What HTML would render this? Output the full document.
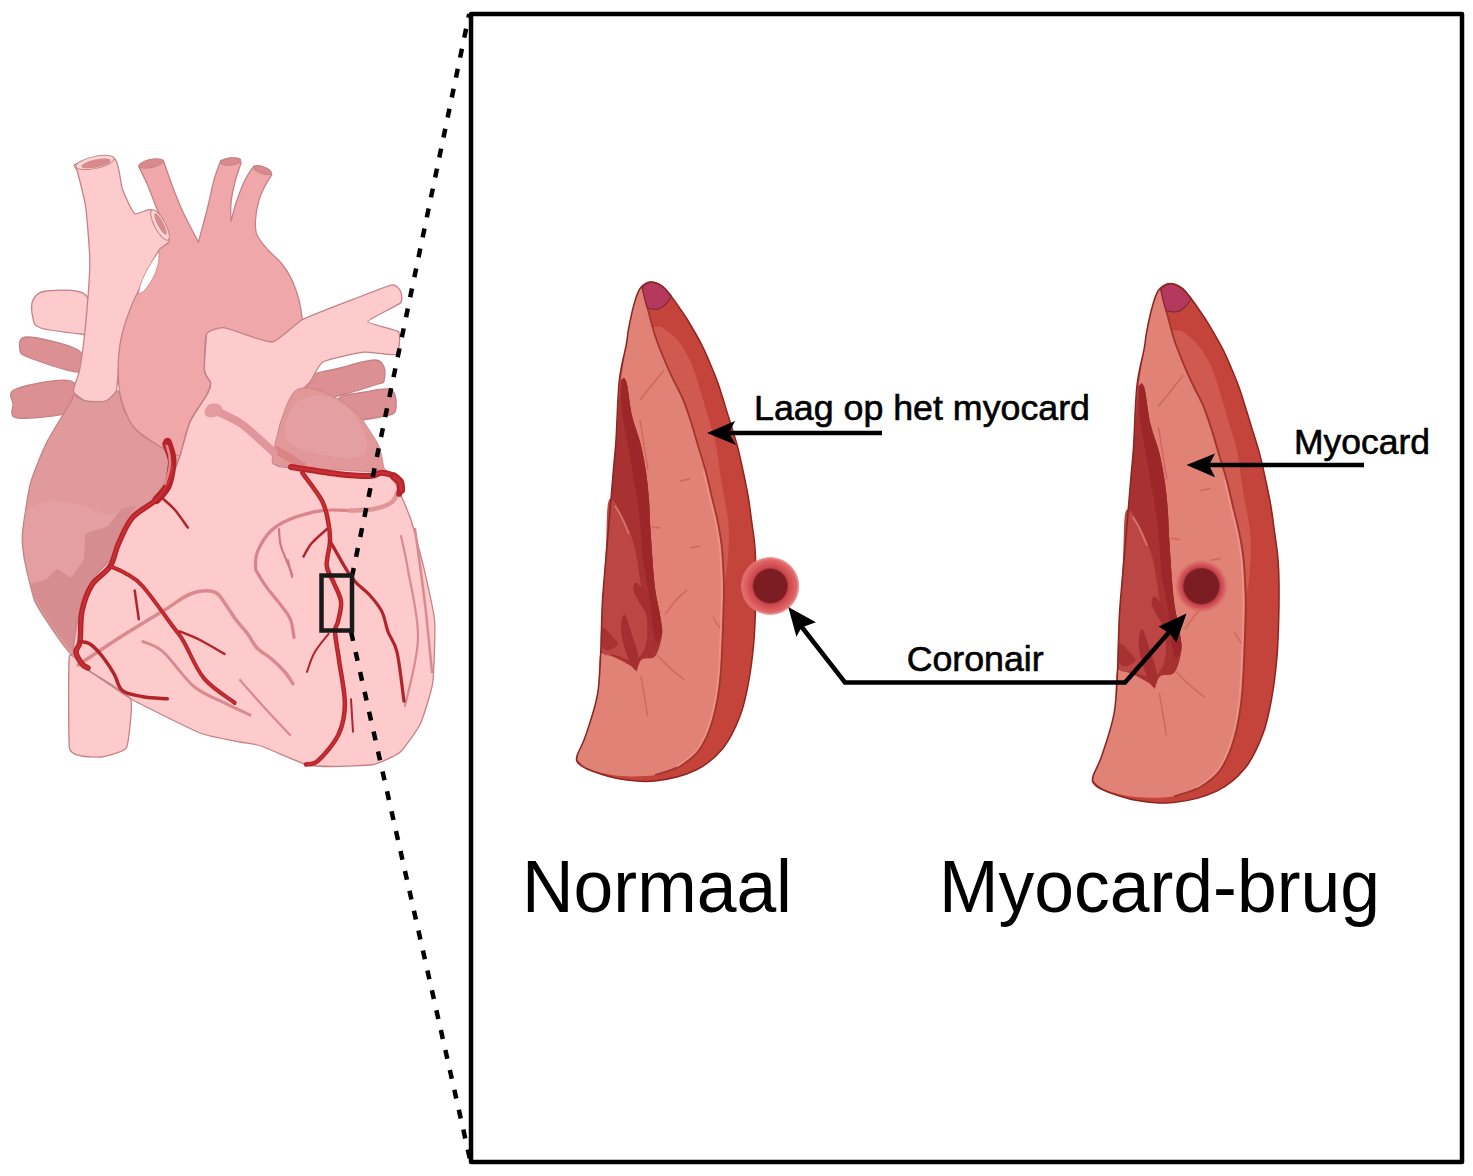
<!DOCTYPE html>
<html><head><meta charset="utf-8">
<style>
html,body{margin:0;padding:0;background:#fff;width:1473px;height:1176px;overflow:hidden}
svg{display:block}
text{font-family:"Liberation Sans",sans-serif;fill:#000}
</style></head><body>
<svg width="1473" height="1176" viewBox="0 0 1473 1176">
<g id="heart">
<path d="M306.0,378.0 C310.7,372.7 328.7,371.0 340.0,368.0 C351.3,365.0 366.7,360.2 374.0,360.0 C381.3,359.8 382.3,363.5 384.0,367.0 C385.7,370.5 385.0,378.2 384.0,381.0 C383.0,383.8 384.5,381.8 378.0,384.0 C371.5,386.2 356.0,391.3 345.0,394.0 C334.0,396.7 318.5,402.7 312.0,400.0 C305.5,397.3 301.3,383.3 306.0,378.0 Z" fill="#dd9094" stroke="#c48286" stroke-width="1.3"/>
<path d="M339.0,398.0 C343.3,393.7 357.0,393.5 365.0,392.0 C373.0,390.5 382.0,388.5 387.0,389.0 C392.0,389.5 393.7,391.2 395.0,395.0 C396.3,398.8 396.8,408.5 395.0,412.0 C393.2,415.5 389.8,414.7 384.0,416.0 C378.2,417.3 367.5,419.7 360.0,420.0 C352.5,420.3 342.5,421.7 339.0,418.0 C335.5,414.3 334.7,402.3 339.0,398.0 Z" fill="#dd9094" stroke="#c48286" stroke-width="1.3"/>
<path d="M47.0,291.0 C55.8,290.2 78.9,288.0 85.7,295.0 C92.5,302.0 88.7,326.5 88.0,333.0 C87.3,339.5 89.5,334.8 81.6,334.0 C73.7,333.2 48.9,330.7 40.8,328.0 C32.7,325.3 34.3,322.7 33.0,318.0 C31.7,313.3 30.7,304.5 33.0,300.0 C35.3,295.5 38.2,291.8 47.0,291.0 Z" fill="#fdcbcb" stroke="#c48286" stroke-width="1.3"/>
<path d="M27.0,337.0 C36.7,337.0 69.2,344.2 78.0,350.0 C86.8,355.8 88.0,370.7 80.0,372.0 C72.0,373.3 40.0,361.7 30.0,358.0 C20.0,354.3 20.5,353.5 20.0,350.0 C19.5,346.5 17.3,337.0 27.0,337.0 Z" fill="#dd9094" stroke="#c48286" stroke-width="1.3"/>
<path d="M16.0,389.0 C25.7,385.2 61.2,377.5 71.0,381.0 C80.8,384.5 83.8,403.8 75.0,410.0 C66.2,416.2 28.3,419.0 18.0,418.0 C7.7,417.0 13.3,408.8 13.0,404.0 C12.7,399.2 6.3,392.8 16.0,389.0 Z" fill="#dd9094" stroke="#c48286" stroke-width="1.3"/>
<path d="M138.8,166.5 C140.3,169.8 145.0,178.9 148.0,186.0 C151.0,193.1 153.8,201.7 157.0,209.0 C160.2,216.3 165.6,226.3 167.3,229.8 C165.9,233.2 164.8,237.8 159.0,250.0 C153.2,262.2 138.8,287.3 132.7,303.0 C126.6,318.7 124.5,336.2 122.4,344.0 C120.4,351.8 120.1,338.8 120.4,350.0 C120.8,361.2 120.8,396.7 124.5,411.0 C128.2,425.3 136.4,429.9 142.9,435.7 C149.4,441.5 157.2,442.6 163.3,446.0 C169.4,449.4 172.7,457.0 179.6,456.0 C186.5,455.0 196.6,449.3 205.0,440.0 C213.4,430.7 217.5,413.3 230.0,400.0 C242.5,386.7 267.9,373.4 280.0,360.0 C292.1,346.6 298.7,326.3 302.4,319.6 C301.8,316.3 300.7,306.6 299.0,300.0 C297.3,293.4 294.8,286.0 292.0,280.0 C289.2,274.0 286.0,269.0 282.0,264.0 C278.0,259.0 272.2,254.8 268.0,250.0 C263.8,245.2 259.1,240.0 257.0,235.0 C254.9,230.0 255.2,225.8 255.5,220.0 C255.8,214.2 257.4,205.7 259.0,200.0 C260.6,194.3 262.9,190.2 265.0,186.0 C267.1,181.8 270.7,176.6 271.8,174.7 C270.2,173.6 265.1,169.4 262.0,168.0 C258.9,166.6 254.9,166.8 253.5,166.5 C252.1,168.8 247.9,173.9 245.0,180.0 C242.1,186.1 238.3,196.1 236.0,203.0 C233.7,209.9 231.8,218.5 231.0,221.6 C231.0,218.5 230.3,209.6 231.0,203.0 C231.7,196.4 233.3,188.8 235.0,182.0 C236.7,175.2 240.2,165.7 241.2,162.4 C239.5,161.7 234.4,158.3 231.0,158.0 C227.6,157.7 222.5,160.0 220.8,160.4 C219.7,163.7 216.3,171.7 214.0,180.0 C211.7,188.3 209.6,199.7 207.0,210.0 C204.4,220.3 199.8,236.7 198.4,242.0 C197.2,239.7 193.6,233.0 191.0,228.0 C188.4,223.0 185.7,217.8 183.0,212.0 C180.3,206.2 178.3,201.6 175.0,193.0 C171.7,184.4 165.2,165.8 163.3,160.4 C161.1,160.3 154.1,159.0 150.0,160.0 C145.9,161.0 140.7,165.4 138.8,166.5 Z" fill="#efa7a9" stroke="#c48286" stroke-width="1.3"/>
<ellipse cx="151" cy="163.5" rx="12.5" ry="4" transform="rotate(-12 151 163.5)" fill="#d98a8e" stroke="#c48286" stroke-width="1"/>
<ellipse cx="231" cy="161.5" rx="10" ry="3.5" transform="rotate(-8 231 161.5)" fill="#d98a8e" stroke="#c48286" stroke-width="1"/>
<ellipse cx="262.5" cy="170" rx="9.5" ry="3.5" transform="rotate(20 262.5 170)" fill="#d98a8e" stroke="#c48286" stroke-width="1"/>
<path d="M75.5,164.0 C71.8,165.4 76.6,167.7 77.6,172.0 C78.6,176.3 84.5,198.0 85.7,207.0 C86.9,216.0 89.8,250.7 89.8,262.4 C89.8,274.1 86.7,312.9 85.7,323.7 C84.7,334.5 80.8,363.3 79.6,370.0 C78.4,376.7 72.9,387.9 73.5,391.0 C74.1,394.1 82.5,400.0 85.7,401.0 C89.0,402.0 102.9,402.0 106.0,401.0 C109.1,400.0 114.9,396.1 116.3,391.0 C117.7,385.9 119.0,356.7 120.0,350.0 C121.0,343.3 124.2,330.4 126.5,323.7 C128.8,317.0 139.7,290.4 142.9,283.0 C146.2,275.6 156.3,254.3 159.0,250.0 C161.7,245.7 170.1,244.0 169.4,240.0 C168.7,236.0 155.5,212.7 152.0,210.0 C148.5,207.3 137.7,215.6 134.7,213.5 C131.7,211.4 124.4,194.5 122.4,189.0 C120.4,183.5 119.0,160.9 114.3,158.4 C109.6,155.9 79.2,162.6 75.5,164.0 Z" fill="#fdcbcb" stroke="#c48286" stroke-width="1.3"/>
<ellipse cx="95" cy="162.5" rx="19.5" ry="6" transform="rotate(-12 95 162.5)" fill="#fcd6d6" stroke="#c48286" stroke-width="1"/>
<ellipse cx="96" cy="163.5" rx="15" ry="4" transform="rotate(-12 96 163.5)" fill="#d98a8e"/>
<ellipse cx="160" cy="225" rx="5.5" ry="17" transform="rotate(-28 160 225)" fill="#fcd6d6" stroke="#c48286" stroke-width="1"/>
<ellipse cx="160.5" cy="224" rx="3" ry="12" transform="rotate(-28 160.5 224)" fill="#d98a8e"/>
<path d="M73.5,395.0 C72.1,395.0 74.1,396.3 71.4,401.0 C68.8,405.7 51.1,433.6 47.0,441.8 C42.9,450.0 33.1,473.5 30.6,482.7 C28.1,491.9 23.0,526.0 22.4,533.7 C21.8,541.4 23.3,553.3 24.5,560.0 C25.7,566.7 32.1,594.1 34.7,600.8 C37.4,607.5 47.7,622.4 51.0,627.3 C54.3,632.2 65.0,647.1 67.3,649.8 C69.5,652.5 72.5,656.9 73.5,654.0 C74.5,651.1 75.8,628.4 77.6,621.0 C79.4,613.6 88.6,586.5 91.8,580.4 C95.0,574.3 107.3,563.6 110.0,560.0 C112.7,556.4 116.1,548.2 118.4,543.9 C120.7,539.6 128.6,522.0 132.7,517.3 C136.8,512.6 154.9,501.5 159.0,497.0 C163.1,492.5 171.4,476.5 173.5,472.4 C175.6,468.3 180.6,458.6 179.6,456.0 C178.6,453.4 167.0,448.0 163.3,446.0 C159.6,444.0 146.8,439.2 142.9,435.7 C139.0,432.2 127.0,415.5 124.5,411.0 C122.0,406.5 120.2,392.0 118.4,391.0 C116.6,390.0 109.3,400.0 106.0,401.0 C102.7,402.0 89.0,401.6 85.7,401.0 C82.5,400.4 74.9,395.0 73.5,395.0 Z" fill="#e09a9b" stroke="#c48286" stroke-width="1.3"/>
<path d="M159.0,250.0 C152.3,254.3 136.5,294.2 132.7,303.0 C128.9,311.8 122.7,331.4 121.2,338.0 C119.8,344.6 118.2,362.9 118.2,369.0 C118.2,375.1 119.7,393.7 121.2,399.5 C122.7,405.3 129.8,422.4 133.5,427.0 C137.2,431.6 153.1,442.3 158.0,445.4 C162.9,448.5 179.3,460.0 182.5,457.7 C185.7,455.4 188.2,428.3 190.0,422.5 C191.8,416.7 199.1,403.2 200.8,399.5 C202.5,395.8 206.5,388.8 207.0,385.7 C207.5,382.6 205.7,372.9 205.4,368.9 C205.1,364.9 203.4,349.8 203.9,346.0 C204.4,342.2 208.3,332.4 210.0,330.6 C211.7,328.8 217.7,330.7 220.7,327.6 C223.7,324.5 242.1,306.8 240.0,300.0 C237.9,293.2 208.1,265.0 200.0,260.0 C191.9,255.0 165.7,245.7 159.0,250.0 Z" fill="#efa7a9"/>
<path d="M159.0,250.0 C155.5,257.1 137.7,291.3 132.7,303.0 C127.7,314.7 123.1,329.2 121.2,338.0 C119.3,346.8 118.2,360.8 118.2,369.0 C118.2,377.2 119.2,391.8 121.2,399.5 C123.2,407.2 128.6,420.9 133.5,427.0 C138.4,433.1 151.5,441.3 158.0,445.4 C164.5,449.5 179.2,456.1 182.5,457.7" fill="none" stroke="#c48286" stroke-width="1.3"/>
<path d="M159.0,251.0 C158.9,252.8 159.3,257.8 158.5,262.0 C157.7,266.2 156.2,271.3 154.0,276.0 C151.8,280.7 147.6,287.0 145.0,290.0 C142.4,293.0 139.6,293.3 138.5,294.0 C138.9,292.2 139.4,287.3 141.0,283.0 C142.6,278.7 145.7,272.3 148.0,268.0 C150.3,263.7 153.2,259.8 155.0,257.0 C156.8,254.2 158.3,252.0 159.0,251.0 Z" fill="#ffffff" stroke="#c48286" stroke-width="0.8"/>
<path d="M30.6,583.0 C31.6,582.0 44.9,579.9 46.7,579.0 C48.5,578.1 55.4,569.1 57.0,569.0 C58.6,568.9 69.4,577.7 71.2,577.0 C73.0,576.3 82.5,561.6 83.5,558.8 C84.5,556.0 84.7,536.2 85.5,534.3 C86.3,532.4 94.2,530.6 95.7,530.0 C97.2,529.4 106.4,527.3 108.0,526.0 C109.6,524.7 118.1,511.2 120.0,509.8 C121.9,508.4 135.9,505.2 136.5,505.7 C137.1,506.2 129.8,515.3 128.4,518.0 C127.0,520.7 117.9,542.4 116.0,546.5 C114.1,550.6 102.0,575.7 99.8,579.2 C97.6,582.7 85.0,596.6 83.5,599.6 C82.0,602.6 78.0,621.0 77.3,624.0 C76.6,627.0 73.7,642.7 73.3,644.5 C72.9,646.3 72.7,652.0 71.2,650.6 C69.7,649.2 53.4,627.8 50.8,624.0 C48.2,620.2 33.7,596.2 32.4,593.5 C31.1,590.8 29.6,584.0 30.6,583.0 Z" fill="#d68d90"/>
<path d="M26.0,511.0 C27.7,507.7 46.4,500.4 50.0,500.0 C53.6,499.6 76.0,504.0 80.0,505.0 C84.0,506.0 107.3,514.7 110.0,515.0 C112.7,515.3 120.1,509.1 120.0,509.8 C119.9,510.5 109.6,524.7 108.0,526.0 C106.4,527.3 97.2,529.4 95.7,530.0 C94.2,530.6 86.3,532.4 85.5,534.3 C84.7,536.2 84.5,556.0 83.5,558.8 C82.5,561.6 73.0,576.3 71.2,577.0 C69.4,577.7 58.6,568.9 57.0,569.0 C55.4,569.1 48.5,578.1 46.7,579.0 C44.9,579.9 32.1,584.9 30.6,583.0 C29.1,581.1 24.3,554.8 24.0,550.0 C23.7,545.2 24.3,514.3 26.0,511.0 Z" fill="#e3a0a2" opacity="0.8"/>
<path d="M180.0,456.0 C181.4,451.8 187.8,426.9 190.0,421.8 C192.2,416.7 204.8,398.5 206.5,395.3 C208.2,392.1 210.8,385.0 210.6,383.0 C210.4,381.0 204.8,374.9 204.5,370.8 C204.2,366.7 204.8,337.6 206.5,334.0 C208.2,330.4 219.5,327.1 224.9,327.8 C230.3,328.5 265.3,342.7 271.8,342.0 C278.3,341.3 295.6,323.2 302.4,319.6 C309.2,316.0 346.0,302.1 353.5,299.2 C361.0,296.3 388.3,285.6 392.2,284.9 C396.1,284.2 399.7,289.5 400.4,291.0 C401.1,292.5 403.1,300.4 400.4,303.0 C397.7,305.6 368.0,319.2 367.8,321.6 C367.6,324.0 396.0,329.1 398.4,331.8 C400.8,334.5 399.2,352.6 396.3,354.3 C393.4,356.0 369.8,351.6 363.7,352.2 C357.6,352.8 327.4,359.5 322.9,362.0 C318.4,364.5 312.6,378.8 310.0,382.0 C307.4,385.2 294.5,396.4 292.0,400.0 C289.5,403.6 281.3,419.6 280.0,425.0 C278.7,430.4 274.2,461.1 276.0,464.7 C277.8,468.3 292.9,467.5 302.0,468.0 C311.1,468.5 376.8,468.6 385.0,470.8 C393.2,473.0 398.2,490.1 400.4,494.3 C402.6,498.6 409.6,515.4 411.6,521.8 C413.6,528.2 422.6,562.3 424.5,570.6 C426.4,578.9 434.0,612.2 434.7,621.6 C435.4,631.0 433.9,674.4 432.7,682.9 C431.5,691.4 423.1,717.9 420.4,723.7 C417.7,729.5 403.9,748.8 400.0,752.2 C396.1,755.6 379.1,763.3 373.5,764.5 C367.9,765.7 338.3,766.5 332.7,766.5 C327.1,766.5 312.0,766.2 306.0,764.5 C300.0,762.8 266.7,747.9 261.2,746.0 C255.7,744.1 245.1,743.1 240.0,742.0 C234.9,740.9 209.1,736.6 200.0,733.0 C190.9,729.4 139.9,704.0 130.6,698.8 C121.2,693.5 92.6,673.7 87.8,670.0 C83.0,666.3 74.3,658.1 73.5,654.0 C72.7,649.9 76.1,627.1 77.6,621.0 C79.1,614.9 89.1,585.5 91.8,580.4 C94.5,575.3 107.8,563.0 110.0,560.0 C112.2,557.0 116.5,547.5 118.4,543.9 C120.3,540.3 129.3,521.2 132.7,517.3 C136.1,513.4 155.6,500.7 159.0,497.0 C162.4,493.3 171.8,475.8 173.5,472.4 C175.2,469.0 178.6,460.2 180.0,456.0 Z" fill="#fdcbcb" stroke="#c48286" stroke-width="1.3"/>
<path d="M206.5,334.0 C206.2,340.1 203.8,362.6 204.5,370.8 C205.2,379.0 210.3,378.9 210.6,383.0 C210.9,387.1 209.9,388.8 206.5,395.3 C203.1,401.8 194.4,411.7 190.0,421.8 C185.6,431.9 181.7,450.3 180.0,456.0" fill="none" stroke="#c48286" stroke-width="1.3"/>
<path d="M272.2,461.7 C271.8,458.8 273.1,453.4 274.4,447.3 C275.7,441.2 277.8,432.4 280.0,425.0 C282.2,417.6 284.9,408.8 287.6,403.0 C290.4,397.2 292.3,392.4 296.5,390.0 C300.7,387.6 305.8,387.2 313.0,388.8 C320.2,390.4 331.9,395.2 339.6,399.8 C347.3,404.4 354.2,411.0 359.4,416.4 C364.5,421.8 367.2,426.8 370.5,431.9 C373.8,437.0 377.1,441.4 379.3,447.3 C381.5,453.2 382.9,463.1 383.8,467.2 C384.7,471.3 391.8,471.5 384.5,472.0 C377.2,472.5 354.1,470.7 340.0,470.0 C325.9,469.3 310.6,468.8 300.0,468.0 C289.4,467.2 281.2,466.1 276.6,465.0 C272.0,463.9 272.6,464.6 272.2,461.7 Z" fill="#e29799" stroke="#c48286" stroke-width="0.8"/>
<path d="M287.0,418.0 C289.3,411.7 293.7,403.7 300.0,400.0 C306.3,396.3 316.7,394.3 325.0,396.0 C333.3,397.7 343.5,404.0 350.0,410.0 C356.5,416.0 361.3,425.0 364.0,432.0 C366.7,439.0 368.3,447.7 366.0,452.0 C363.7,456.3 357.3,457.5 350.0,458.0 C342.7,458.5 330.7,456.7 322.0,455.0 C313.3,453.3 304.0,450.8 298.0,448.0 C292.0,445.2 287.8,443.0 286.0,438.0 C284.2,433.0 284.7,424.3 287.0,418.0 Z" fill="#e6a3a5" opacity="0.7"/>
<path d="M274.4,449.0 C277.0,450.5 285.0,455.0 290.0,458.0 C295.0,461.0 301.8,465.5 304.2,467.0" fill="none" stroke="#d97c80" stroke-width="8" opacity="0.75"/>
<path d="M69.4,656.0 C68.2,661.2 68.6,741.1 69.4,747.8 C70.2,754.5 79.4,755.4 81.6,756.0 C83.8,756.6 99.0,757.5 102.0,757.0 C105.0,756.5 124.6,751.7 126.5,747.8 C128.4,743.9 133.2,704.0 130.6,698.8 C128.0,693.6 91.9,672.9 87.8,670.0 C83.7,667.1 70.6,650.8 69.4,656.0 Z" fill="#fdcbcb" stroke="#c48286" stroke-width="1.3"/>
<path d="M87.8,670.0 C94.9,674.8 123.5,694.0 130.6,698.8" fill="none" stroke="#c48286" stroke-width="1.3"/>
<path d="M214.0,410.0 C218.3,412.2 232.7,418.3 240.0,423.0 C247.3,427.7 252.3,433.1 258.0,438.0 C263.6,442.9 271.2,450.0 273.9,452.4" fill="none" stroke="#e0959a" stroke-width="8" stroke-linecap="round"/>
<path d="M350.0,510.6 C345.3,510.6 331.6,509.2 321.8,510.6 C312.0,512.0 299.7,515.4 291.2,518.8 C282.7,522.2 276.4,525.6 270.8,531.0 C265.2,536.4 260.2,545.4 257.6,551.4 C255.1,557.4 255.6,563.3 255.5,566.7 C255.4,570.1 255.1,568.5 257.0,572.0 C258.9,575.5 262.7,581.9 266.7,587.4 C270.7,592.9 277.0,599.9 281.0,605.2 C285.0,610.6 288.3,614.1 290.5,619.5 C292.7,624.9 293.4,634.4 294.0,637.4" fill="none" stroke="#d8848a" stroke-width="3.2" stroke-linecap="round"/>
<path d="M350.0,510.6 C354.0,510.3 367.0,510.4 374.0,509.0 C381.0,507.6 388.0,505.0 392.0,502.0 C396.0,499.0 397.0,492.8 398.0,491.0" fill="none" stroke="#e0959a" stroke-width="4.5" stroke-linecap="round"/>
<path d="M279.0,529.0 C279.3,531.9 279.0,539.2 281.0,546.3 C283.0,553.4 289.4,566.7 291.2,571.8 C293.0,576.9 291.9,576.1 292.0,577.0" fill="none" stroke="#d07a80" stroke-width="2.2" stroke-linecap="round"/>
<path d="M288.0,560.0 C288.6,562.6 291.1,572.9 291.7,575.5" fill="none" stroke="#d07a80" stroke-width="1.8" stroke-linecap="round"/>
<path d="M78.2,665.0 C85.0,660.5 104.9,647.0 119.0,638.0 C133.1,629.0 151.1,618.3 163.0,611.0 C174.9,603.7 181.9,597.2 190.5,594.0 C199.1,590.8 208.4,590.2 214.3,592.0 C220.2,593.8 222.4,600.4 226.0,605.0 C229.6,609.6 232.1,614.7 235.7,619.5 C239.3,624.3 244.0,629.0 247.6,633.8 C251.2,638.5 253.0,643.8 257.0,648.0 C261.0,652.2 266.6,654.6 271.4,658.8 C276.2,663.0 282.1,668.8 285.7,673.0 C289.3,677.2 291.7,682.0 292.9,683.8" fill="none" stroke="#d98a8f" stroke-width="3.5" stroke-linecap="round"/>
<path d="M142.9,641.6 C146.3,643.3 154.8,644.5 163.3,652.0 C171.8,659.5 183.7,678.0 193.9,686.5 C204.1,695.0 215.2,698.1 224.5,702.9 C233.8,707.6 245.8,713.0 250.0,715.0" fill="none" stroke="#d98a8f" stroke-width="3" stroke-linecap="round"/>
<path d="M415.0,529.0 C416.7,541.5 422.2,580.2 425.0,604.0 C427.8,627.8 430.8,660.7 432.0,672.0" fill="none" stroke="#d98a8f" stroke-width="2.5" stroke-linecap="round"/>
<path d="M401.0,536.0 C402.2,541.7 405.2,553.0 408.0,570.0 C410.8,587.0 418.5,615.3 418.0,638.0 C417.5,660.7 407.2,694.7 405.0,706.0" fill="none" stroke="#d98a8f" stroke-width="2.2" stroke-linecap="round"/>
<path d="M240.0,680.0 C243.7,684.2 253.7,695.8 262.0,705.0 C270.3,714.2 285.3,730.0 290.0,735.0" fill="none" stroke="#d98a8f" stroke-width="2.2" stroke-linecap="round"/>
<path d="M205.0,410.0 C205.7,408.0 207.5,404.8 210.0,404.0 C212.5,403.2 218.0,403.5 220.0,405.0 C222.0,406.5 223.0,411.0 222.0,413.0 C221.0,415.0 216.7,416.5 214.0,417.0 C211.3,417.5 207.5,417.2 206.0,416.0 C204.5,414.8 204.3,412.0 205.0,410.0 Z" fill="#e29ca0"/>
<path d="M167.5,442.0 C168.2,444.2 170.8,451.0 171.5,455.0 C172.2,459.0 172.7,460.8 172.0,466.0 C171.3,471.2 170.1,480.3 167.5,486.0 C164.9,491.7 158.2,497.7 156.4,500.0" fill="none" stroke="#b3242a" stroke-width="8.5" stroke-linecap="round"/>
<path d="M165.0,444.0 C166.2,448.3 173.0,461.2 172.0,470.0 C171.0,478.8 165.6,489.1 159.0,497.0 C152.4,504.9 139.5,509.5 132.7,517.3 C125.9,525.1 122.2,535.7 118.4,543.9 C114.7,552.1 114.6,559.4 110.2,566.3 C105.8,573.1 96.5,577.5 91.8,585.0 C87.1,592.5 84.0,601.6 82.0,611.0 C80.0,620.4 81.0,634.8 80.0,641.6 C79.0,648.4 75.7,648.3 76.0,652.0 C76.3,655.7 80.0,661.3 82.0,664.0 C84.0,666.7 87.0,667.3 88.0,668.0" fill="none" stroke="#b3242a" stroke-width="5.5" stroke-linecap="round" stroke-linejoin="round"/>
<path d="M165.0,444.0 C166.2,448.3 173.0,461.2 172.0,470.0 C171.0,478.8 165.6,489.1 159.0,497.0 C152.4,504.9 139.5,509.5 132.7,517.3 C125.9,525.1 122.2,535.7 118.4,543.9 C114.7,552.1 114.6,559.4 110.2,566.3 C105.8,573.1 96.5,577.5 91.8,585.0 C87.1,592.5 84.0,601.6 82.0,611.0 C80.0,620.4 81.0,634.8 80.0,641.6 C79.0,648.4 75.7,648.3 76.0,652.0 C76.3,655.7 80.0,661.3 82.0,664.0 C84.0,666.7 87.0,667.3 88.0,668.0" fill="none" stroke="#cf3236" stroke-width="2.2" stroke-linecap="round" stroke-linejoin="round" opacity="0.8"/>
<path d="M80.0,641.6 C81.7,642.0 86.3,641.6 90.0,644.0 C93.7,646.4 98.0,651.0 102.0,656.0 C106.0,661.0 110.9,668.5 114.3,674.3 C117.7,680.1 117.6,686.9 122.4,690.6 C127.2,694.3 135.4,695.3 142.9,696.7 C150.4,698.1 163.2,698.4 167.3,698.8" fill="none" stroke="#b3242a" stroke-width="3.5" stroke-linecap="round" stroke-linejoin="round"/>
<path d="M110.2,566.3 C112.7,567.4 119.5,569.6 125.0,573.0 C130.4,576.4 134.8,577.5 142.9,586.5 C151.0,595.5 166.7,618.1 173.5,627.3 C180.3,636.5 178.6,633.1 183.7,641.6 C188.8,650.1 195.5,668.2 204.0,678.4 C212.5,688.6 229.6,698.8 234.7,702.9" fill="none" stroke="#b3242a" stroke-width="4" stroke-linecap="round" stroke-linejoin="round"/>
<path d="M110.2,566.3 C112.7,567.4 119.5,569.6 125.0,573.0 C130.4,576.4 134.8,577.5 142.9,586.5 C151.0,595.5 166.7,618.1 173.5,627.3 C180.3,636.5 178.6,633.1 183.7,641.6 C188.8,650.1 195.5,668.2 204.0,678.4 C212.5,688.6 229.6,698.8 234.7,702.9" fill="none" stroke="#cf3236" stroke-width="1.6" stroke-linecap="round" stroke-linejoin="round" opacity="0.8"/>
<path d="M179.6,631.4 C183.0,632.8 192.5,636.2 200.0,640.0 C207.5,643.8 220.4,651.6 224.5,653.9" fill="none" stroke="#b3242a" stroke-width="2.5" stroke-linecap="round" stroke-linejoin="round"/>
<path d="M134.7,590.6 C135.4,595.4 138.1,614.4 138.8,619.2" fill="none" stroke="#b3242a" stroke-width="2.5" stroke-linecap="round" stroke-linejoin="round"/>
<path d="M163.3,499.0 C165.2,500.8 170.9,505.2 175.0,510.0 C179.1,514.8 185.7,524.7 187.8,527.6" fill="none" stroke="#b3242a" stroke-width="2.5" stroke-linecap="round" stroke-linejoin="round"/>
<path d="M291.0,467.0 C298.7,468.1 324.1,472.4 337.3,473.9 C350.6,475.4 363.1,476.2 370.5,476.0 C377.9,475.8 377.2,472.6 381.5,472.8 C385.8,473.0 392.7,475.0 396.0,477.2 C399.3,479.4 400.9,483.2 401.4,486.0 C401.9,488.8 399.6,492.5 399.2,493.8" fill="none" stroke="#b3242a" stroke-width="6" stroke-linecap="round" stroke-linejoin="round"/>
<path d="M291.0,467.0 C298.7,468.1 324.1,472.4 337.3,473.9 C350.6,475.4 363.1,476.2 370.5,476.0 C377.9,475.8 377.2,472.6 381.5,472.8 C385.8,473.0 392.7,475.0 396.0,477.2 C399.3,479.4 400.9,483.2 401.4,486.0 C401.9,488.8 399.6,492.5 399.2,493.8" fill="none" stroke="#cf3236" stroke-width="2.4" stroke-linecap="round" stroke-linejoin="round" opacity="0.8"/>
<path d="M394.0,476.5 C395.0,477.4 398.8,479.8 400.0,482.0 C401.2,484.2 400.8,488.7 401.0,490.0" fill="none" stroke="#b3242a" stroke-width="8" stroke-linecap="round" stroke-linejoin="round"/>
<path d="M394.0,476.5 C395.0,477.4 398.8,479.8 400.0,482.0 C401.2,484.2 400.8,488.7 401.0,490.0" fill="none" stroke="#cf3236" stroke-width="3.2" stroke-linecap="round" stroke-linejoin="round" opacity="0.8"/>
<path d="M302.4,472.9 C305.6,477.5 317.5,492.4 321.8,500.4 C326.1,508.4 326.6,514.0 328.0,520.8 C329.4,527.6 330.2,533.8 330.0,541.2 C329.8,548.7 326.2,558.9 326.7,565.5 C327.2,572.1 330.5,574.8 332.9,580.8 C335.3,586.8 340.1,594.4 341.0,601.2 C341.9,608.0 339.0,616.5 338.0,621.6 C337.0,626.7 334.8,625.4 335.0,631.8 C335.2,638.2 337.4,648.1 339.0,660.0 C340.6,671.9 344.9,691.0 344.9,703.3 C344.9,715.6 343.2,724.4 338.8,733.9 C334.4,743.4 323.9,755.3 318.4,760.4 C312.9,765.5 308.1,763.8 306.0,764.5" fill="none" stroke="#b3242a" stroke-width="4.5" stroke-linecap="round" stroke-linejoin="round"/>
<path d="M302.4,472.9 C305.6,477.5 317.5,492.4 321.8,500.4 C326.1,508.4 326.6,514.0 328.0,520.8 C329.4,527.6 330.2,533.8 330.0,541.2 C329.8,548.7 326.2,558.9 326.7,565.5 C327.2,572.1 330.5,574.8 332.9,580.8 C335.3,586.8 340.1,594.4 341.0,601.2 C341.9,608.0 339.0,616.5 338.0,621.6 C337.0,626.7 334.8,625.4 335.0,631.8 C335.2,638.2 337.4,648.1 339.0,660.0 C340.6,671.9 344.9,691.0 344.9,703.3 C344.9,715.6 343.2,724.4 338.8,733.9 C334.4,743.4 323.9,755.3 318.4,760.4 C312.9,765.5 308.1,763.8 306.0,764.5" fill="none" stroke="#cf3236" stroke-width="1.8" stroke-linecap="round" stroke-linejoin="round" opacity="0.8"/>
<path d="M330.0,541.0 C332.8,545.9 342.6,563.6 347.0,570.6 C351.4,577.6 352.5,578.8 356.3,582.9 C360.1,587.0 365.4,590.2 369.6,595.0 C373.9,599.8 378.7,605.3 381.8,611.4 C384.9,617.5 385.5,625.0 388.0,631.8 C390.5,638.6 394.3,640.6 397.0,652.2 C399.7,663.8 402.8,693.0 404.0,701.2" fill="none" stroke="#b3242a" stroke-width="3.2" stroke-linecap="round" stroke-linejoin="round"/>
<path d="M327.0,529.0 C324.4,531.4 315.5,538.7 311.6,543.3 C307.7,547.9 304.9,554.3 303.5,556.5" fill="none" stroke="#b3242a" stroke-width="2.5" stroke-linecap="round" stroke-linejoin="round"/>
<path d="M328.6,633.8 C326.2,637.0 317.9,646.5 314.3,652.9 C310.7,659.2 308.2,668.7 307.0,671.9" fill="none" stroke="#b3242a" stroke-width="2" stroke-linecap="round" stroke-linejoin="round"/>
<path d="M351.0,699.2 C351.3,704.6 352.7,726.4 353.0,731.8" fill="none" stroke="#b3242a" stroke-width="2" stroke-linecap="round" stroke-linejoin="round"/>
<path d="M167.0,446.0 C167.4,447.7 169.1,452.3 169.5,456.0 C169.9,459.7 170.2,463.3 169.5,468.0 C168.8,472.7 165.8,481.3 165.0,484.0" fill="none" stroke="#e39a9a" stroke-width="2.5" stroke-linecap="round" opacity="0.85"/>
</g>
<g id="sliceL">
<path d="M650.0,282.1 C653.7,281.7 658.4,283.6 662.0,286.0 C665.6,288.4 668.1,292.3 671.4,296.4 C674.6,300.5 678.8,306.8 681.5,310.7 C684.2,314.6 684.3,314.5 687.6,320.0 C690.9,325.5 697.5,336.7 701.2,343.8 C704.9,350.9 706.9,355.8 709.7,362.5 C712.5,369.2 714.9,374.2 718.2,383.8 C721.5,393.4 726.3,409.7 729.5,420.0 C732.7,430.3 734.9,437.0 737.2,445.5 C739.5,454.0 741.3,462.5 743.1,471.0 C744.9,479.5 746.8,488.3 748.2,496.5 C749.6,504.7 750.4,511.8 751.5,520.0 C752.6,528.2 754.1,537.2 754.8,545.5 C755.5,553.8 755.8,559.6 755.9,570.0 C756.0,580.4 755.9,595.9 755.5,608.0 C755.1,620.1 754.9,630.2 753.8,642.5 C752.7,654.8 751.0,669.4 748.7,681.6 C746.4,693.8 744.5,704.5 740.2,715.6 C736.0,726.7 730.6,738.9 723.2,748.0 C715.8,757.1 707.4,764.5 696.0,770.0 C684.6,775.5 667.7,779.5 655.0,781.0 C642.3,782.5 630.5,780.7 620.0,779.0 C609.5,777.3 598.8,773.5 592.0,771.0 C585.2,768.5 581.5,766.5 579.0,764.0 C576.5,761.5 575.9,760.7 577.0,756.0 C578.1,751.3 582.1,746.2 585.5,736.0 C588.9,725.8 594.9,709.2 597.4,695.0 C599.9,680.8 599.9,666.8 600.8,651.0 C601.6,635.2 601.4,618.2 602.5,600.0 C603.6,581.8 605.6,563.7 607.4,542.0 C609.2,520.3 612.0,487.0 613.4,470.0 C614.8,453.0 615.0,454.9 616.0,440.0 C617.0,425.1 617.6,396.3 619.3,380.5 C621.0,364.7 624.7,353.6 626.2,345.0 C627.8,336.4 627.3,335.3 628.6,328.6 C629.9,321.9 632.0,311.5 633.9,304.8 C635.8,298.1 637.2,292.5 639.9,288.7 C642.6,284.9 646.3,282.6 650.0,282.1 Z" fill="#c4443b"/>
<path d="M642.3,287.5 C643.6,290.8 645.8,301.4 647.6,308.3 C649.4,315.2 651.4,323.1 653.0,328.6 C654.6,334.1 654.9,335.7 657.0,341.3 C659.1,346.9 662.7,355.9 665.5,362.5 C668.3,369.1 671.2,375.2 674.0,381.2 C676.8,387.1 679.8,391.7 682.5,398.2 C685.2,404.7 687.8,412.1 690.4,420.0 C693.0,427.9 695.5,437.0 698.0,445.5 C700.5,454.0 703.4,462.5 705.7,471.0 C708.0,479.5 709.8,488.3 711.7,496.5 C713.7,504.7 715.7,511.8 717.4,520.0 C719.1,528.2 720.7,537.0 721.7,545.5 C722.7,554.0 723.0,561.9 723.4,571.0 C723.8,580.1 724.3,582.5 723.8,600.0 C723.3,617.5 722.3,656.2 720.5,676.0 C718.7,695.8 716.5,706.7 713.0,719.0 C709.5,731.3 705.1,741.7 699.4,749.6 C693.7,757.5 686.4,762.4 679.0,766.6 C671.6,770.8 664.8,773.4 655.0,775.0 C645.2,776.6 630.5,776.8 620.0,776.0 C609.5,775.2 598.8,772.3 592.0,770.0 C585.2,767.7 581.8,764.5 579.5,762.0 C577.2,759.5 577.0,759.3 578.0,755.0 C579.0,750.7 582.3,746.0 585.5,736.0 C588.7,726.0 594.9,709.0 597.4,695.0 C599.9,681.0 597.7,658.2 600.8,652.0 C603.9,645.8 610.9,655.4 616.0,657.8 C621.1,660.2 628.0,664.0 631.4,666.3 C634.8,668.6 635.6,670.5 636.5,671.4 C637.4,669.4 638.5,662.1 641.6,659.5 C644.7,656.9 651.8,660.2 655.2,656.0 C658.6,651.8 661.2,640.8 662.0,634.0 C662.8,627.2 661.2,623.2 660.0,615.0 C658.8,606.8 656.2,599.1 654.6,584.7 C653.0,570.3 651.3,542.6 650.4,528.5 C649.5,514.4 649.7,509.4 649.0,500.0 C648.3,490.6 647.4,481.3 646.0,472.0 C644.6,462.7 642.9,453.3 640.6,444.0 C638.3,434.7 634.4,426.2 632.0,416.0 C629.6,405.8 628.3,388.6 626.5,382.5 C624.7,376.4 621.9,380.2 621.0,379.7 C621.9,373.9 624.9,353.5 626.2,345.0 C627.5,336.5 627.3,335.3 628.6,328.6 C629.9,321.9 632.0,311.5 633.9,304.8 C635.8,298.1 638.5,291.6 639.9,288.7 C641.3,285.8 641.0,284.2 642.3,287.5 Z" fill="#e08276"/>
<path d="M653.0,328.6 C653.0,326.2 655.2,327.0 657.0,327.0 C658.8,327.0 660.2,326.1 663.8,328.5 C667.3,330.9 673.8,335.6 678.3,341.3 C682.8,347.0 687.5,354.7 691.0,362.5 C694.5,370.3 696.5,378.4 699.5,388.0 C702.5,397.6 706.2,410.5 709.0,420.0 C711.8,429.5 714.0,435.1 716.0,445.0 C718.0,454.9 719.0,467.0 721.0,479.5 C723.0,492.0 726.8,508.2 728.0,520.0 C729.2,531.8 729.1,539.2 728.5,550.0 C727.9,560.8 725.4,581.5 724.5,585.0 C723.6,588.5 723.9,577.6 723.4,571.0 C722.9,564.4 722.7,554.0 721.7,545.5 C720.7,537.0 719.1,528.2 717.4,520.0 C715.7,511.8 713.7,504.7 711.7,496.5 C709.8,488.3 708.0,479.5 705.7,471.0 C703.4,462.5 700.5,454.0 698.0,445.5 C695.5,437.0 693.0,427.9 690.4,420.0 C687.8,412.1 685.2,404.7 682.5,398.2 C679.8,391.7 676.8,387.1 674.0,381.2 C671.2,375.2 668.3,369.1 665.5,362.5 C662.7,355.9 659.1,346.9 657.0,341.3 C654.9,335.7 653.0,331.0 653.0,328.6 Z" fill="#d05a50"/>
<path d="M642.3,287.5 C643.2,291.0 645.8,301.4 647.6,308.3 C649.4,315.2 651.4,323.1 653.0,328.6 C654.6,334.1 654.9,335.7 657.0,341.3 C659.1,346.9 662.7,355.9 665.5,362.5 C668.3,369.1 671.2,375.2 674.0,381.2 C676.8,387.1 679.8,391.7 682.5,398.2 C685.2,404.7 687.8,412.1 690.4,420.0 C693.0,427.9 695.5,437.0 698.0,445.5 C700.5,454.0 703.4,462.5 705.7,471.0 C708.0,479.5 709.8,488.3 711.7,496.5 C713.7,504.7 715.7,511.8 717.4,520.0 C719.1,528.2 720.7,537.0 721.7,545.5 C722.7,554.0 723.0,561.9 723.4,571.0 C723.8,580.1 724.3,582.5 723.8,600.0 C723.3,617.5 722.3,656.2 720.5,676.0 C718.7,695.8 716.5,706.7 713.0,719.0 C709.5,731.3 705.1,741.7 699.4,749.6 C693.7,757.5 686.4,762.4 679.0,766.6 C671.6,770.8 659.0,773.6 655.0,775.0" fill="none" stroke="#a3352f" stroke-width="1.8"/>
<path d="M703.5,471.0 C704.5,475.2 707.5,488.3 709.5,496.5 C711.5,504.7 713.5,511.8 715.2,520.0 C716.9,528.2 718.5,537.0 719.5,545.5 C720.5,554.0 720.8,561.9 721.2,571.0 C721.5,580.1 722.1,582.5 721.6,600.0 C721.1,617.5 720.1,656.2 718.3,676.0 C716.5,695.8 714.3,706.7 710.8,719.0 C707.3,731.3 702.9,741.7 697.2,749.6 C691.5,757.5 680.2,763.8 676.8,766.6" fill="none" stroke="#f0998c" stroke-width="1.6" opacity="0.8"/>
<path d="M621.0,379.7 C621.9,380.2 624.7,376.4 626.5,382.5 C628.3,388.6 629.6,405.8 632.0,416.0 C634.4,426.2 638.3,434.7 640.6,444.0 C642.9,453.3 644.6,462.7 646.0,472.0 C647.4,481.3 648.3,490.6 649.0,500.0 C649.7,509.4 649.5,514.4 650.4,528.5 C651.3,542.6 653.0,570.3 654.6,584.7 C656.2,599.1 658.8,606.8 660.0,615.0 C661.2,623.2 662.8,627.2 662.0,634.0 C661.2,640.8 658.6,651.8 655.2,656.0 C651.8,660.2 644.7,656.9 641.6,659.5 C638.5,662.1 637.4,669.4 636.5,671.4 C635.6,670.5 634.8,668.6 631.4,666.3 C628.0,664.0 621.1,660.1 616.0,657.8 C610.9,655.5 603.3,653.6 600.8,652.7 C601.1,643.9 601.4,618.5 602.5,600.0 C603.6,581.5 605.6,563.7 607.4,542.0 C609.2,520.3 612.0,487.0 613.4,470.0 C614.8,453.0 614.7,455.1 616.0,440.0 C617.3,424.9 620.2,389.8 621.0,379.7 Z" fill="#a83131"/>
<path d="M609.0,500.0 C611.7,495.0 617.8,507.5 622.0,515.0 C626.2,522.5 630.8,533.3 634.0,545.0 C637.2,556.7 638.8,572.5 641.0,585.0 C643.2,597.5 646.3,609.5 647.0,620.0 C647.7,630.5 647.3,641.3 645.0,648.0 C642.7,654.7 637.8,658.8 633.0,660.0 C628.2,661.2 621.2,656.7 616.0,655.0 C610.8,653.3 603.7,659.2 601.5,650.0 C599.3,640.8 602.2,617.5 603.0,600.0 C603.8,582.5 605.0,561.7 606.0,545.0 C607.0,528.3 606.3,505.0 609.0,500.0 Z" fill="#bc4644"/>
<path d="M636.7,583.0 C639.4,584.3 646.0,593.0 650.0,600.0 C654.0,607.0 660.0,619.0 661.0,625.0 C662.0,631.0 658.7,638.2 656.0,636.0 C653.3,633.8 648.7,619.3 645.0,612.0 C641.3,604.7 635.4,596.8 634.0,592.0 C632.6,587.2 634.0,581.7 636.7,583.0 Z" fill="#a52e30"/>
<path d="M624.5,614.4 C626.3,615.2 629.8,628.2 632.0,635.0 C634.2,641.8 637.4,649.2 638.0,655.0 C638.6,660.8 637.2,670.0 635.4,670.0 C633.6,670.0 629.4,661.7 627.0,655.0 C624.6,648.3 621.4,636.8 621.0,630.0 C620.6,623.2 622.7,613.6 624.5,614.4 Z" fill="#a52e30"/>
<path d="M602.7,628.0 C604.4,626.5 609.5,633.3 612.0,636.0 C614.5,638.7 618.4,642.1 617.7,644.4 C617.0,646.7 610.6,649.9 608.0,650.0 C605.4,650.1 602.7,648.7 601.8,645.0 C600.9,641.3 601.0,629.5 602.7,628.0 Z" fill="#a83232"/>
<path d="M622.0,381.0 C622.8,376.4 624.8,376.7 626.5,382.5 C628.2,388.3 629.6,405.8 632.0,416.0 C634.4,426.2 638.3,434.7 640.6,444.0 C642.9,453.3 644.6,462.7 646.0,472.0 C647.4,481.3 648.3,490.6 649.0,500.0 C649.7,509.4 649.5,514.4 650.4,528.5 C651.3,542.6 653.0,570.3 654.6,584.7 C656.2,599.1 658.8,606.8 660.0,615.0 C661.2,623.2 662.8,629.8 662.0,634.0 C661.2,638.2 657.0,645.7 655.0,640.0 C653.0,634.3 652.0,613.3 650.0,600.0 C648.0,586.7 644.7,573.3 643.0,560.0 C641.3,546.7 641.5,533.3 640.0,520.0 C638.5,506.7 636.2,493.3 634.0,480.0 C631.8,466.7 629.0,451.7 627.0,440.0 C625.0,428.3 622.8,419.8 622.0,410.0 C621.2,400.2 621.2,385.6 622.0,381.0 Z" fill="#9b2729"/>
<path d="M615.0,506.0 C616.0,507.7 618.7,511.3 621.0,516.0 C623.3,520.7 627.7,531.0 629.0,534.0" fill="none" stroke="#e0827a" stroke-width="1.6" opacity="0.8"/>
<path d="M642.3,287.5 C643.6,286.6 646.7,282.4 650.0,282.1 C653.3,281.9 658.4,283.6 662.0,286.0 C665.6,288.4 669.8,294.7 671.4,296.4 C670.5,297.7 668.2,301.9 666.0,304.0 C663.8,306.1 661.4,308.3 658.3,309.0 C655.2,309.7 649.4,308.4 647.6,308.3 C647.1,306.6 645.4,301.5 644.5,298.0 C643.6,294.5 642.7,289.2 642.3,287.5 Z" fill="#b4395c" stroke="#8a2a40" stroke-width="1.3"/>
<path d="M650.0,282.1 C653.7,281.7 658.4,283.6 662.0,286.0 C665.6,288.4 668.1,292.3 671.4,296.4 C674.6,300.5 678.8,306.8 681.5,310.7 C684.2,314.6 684.3,314.5 687.6,320.0 C690.9,325.5 697.5,336.7 701.2,343.8 C704.9,350.9 706.9,355.8 709.7,362.5 C712.5,369.2 714.9,374.2 718.2,383.8 C721.5,393.4 726.3,409.7 729.5,420.0 C732.7,430.3 734.9,437.0 737.2,445.5 C739.5,454.0 741.3,462.5 743.1,471.0 C744.9,479.5 746.8,488.3 748.2,496.5 C749.6,504.7 750.4,511.8 751.5,520.0 C752.6,528.2 754.1,537.2 754.8,545.5 C755.5,553.8 755.8,559.6 755.9,570.0 C756.0,580.4 755.9,595.9 755.5,608.0 C755.1,620.1 754.9,630.2 753.8,642.5 C752.7,654.8 751.0,669.4 748.7,681.6 C746.4,693.8 744.5,704.5 740.2,715.6 C736.0,726.7 730.6,738.9 723.2,748.0 C715.8,757.1 707.4,764.5 696.0,770.0 C684.6,775.5 667.7,779.5 655.0,781.0 C642.3,782.5 630.5,780.7 620.0,779.0 C609.5,777.3 598.8,773.5 592.0,771.0 C585.2,768.5 581.5,766.5 579.0,764.0 C576.5,761.5 575.9,760.7 577.0,756.0 C578.1,751.3 582.1,746.2 585.5,736.0 C588.9,725.8 594.9,709.2 597.4,695.0 C599.9,680.8 599.9,666.8 600.8,651.0 C601.6,635.2 601.4,618.2 602.5,600.0 C603.6,581.8 605.6,563.7 607.4,542.0 C609.2,520.3 612.0,487.0 613.4,470.0 C614.8,453.0 615.0,454.9 616.0,440.0 C617.0,425.1 617.6,396.3 619.3,380.5 C621.0,364.7 624.7,353.6 626.2,345.0 C627.8,336.4 627.3,335.3 628.6,328.6 C629.9,321.9 632.0,311.5 633.9,304.8 C635.8,298.1 637.2,292.5 639.9,288.7 C642.6,284.9 646.3,282.6 650.0,282.1 Z" fill="none" stroke="#8e2620" stroke-width="1.5"/>
<path d="M690.0,479.0 C688.3,479.3 681.7,480.7 680.0,481.0" fill="none" stroke="#c9625a" stroke-width="1.4" opacity="0.8"/>
<path d="M660.0,528.0 C658.7,527.8 653.3,527.2 652.0,527.0" fill="none" stroke="#c9625a" stroke-width="1.4" opacity="0.8"/>
<path d="M700.0,546.0 C698.3,546.3 691.7,547.7 690.0,548.0" fill="none" stroke="#c9625a" stroke-width="1.4" opacity="0.8"/>
<path d="M687.0,590.0 C685.2,591.7 679.6,595.9 676.0,600.0 C672.4,604.1 667.1,612.0 665.3,614.4" fill="none" stroke="#c9625a" stroke-width="1.4" opacity="0.8"/>
<path d="M657.0,655.0 C659.2,657.2 665.4,663.9 670.0,668.0 C674.6,672.1 682.0,677.8 684.4,679.7" fill="none" stroke="#c9625a" stroke-width="1.4" opacity="0.8"/>
<path d="M640.8,675.6 C641.5,679.7 643.9,693.2 645.0,700.0 C646.1,706.8 647.2,713.8 647.6,716.5" fill="none" stroke="#c9625a" stroke-width="1.4" opacity="0.8"/>
<path d="M664.0,370.0 C660.0,375.0 644.0,395.0 640.0,400.0" fill="none" stroke="#c9625a" stroke-width="1.4" opacity="0.8"/>
<path d="M640.0,420.0 C641.3,428.3 646.7,461.7 648.0,470.0" fill="none" stroke="#c9625a" stroke-width="1.4" opacity="0.8"/>
<path d="M712.9,617.0 C714.0,618.8 718.6,626.2 719.7,628.0" fill="none" stroke="#c9625a" stroke-width="1.4" opacity="0.8"/>
</g>
<g transform="translate(1169.9,283.6) scale(1.04) translate(-651,-282)">
<path d="M650.0,282.1 C653.7,281.7 658.4,283.6 662.0,286.0 C665.6,288.4 668.1,292.3 671.4,296.4 C674.6,300.5 678.8,306.8 681.5,310.7 C684.2,314.6 684.3,314.5 687.6,320.0 C690.9,325.5 697.5,336.7 701.2,343.8 C704.9,350.9 706.9,355.8 709.7,362.5 C712.5,369.2 714.9,374.2 718.2,383.8 C721.5,393.4 726.3,409.7 729.5,420.0 C732.7,430.3 734.9,437.0 737.2,445.5 C739.5,454.0 741.3,462.5 743.1,471.0 C744.9,479.5 746.8,488.3 748.2,496.5 C749.6,504.7 750.4,511.8 751.5,520.0 C752.6,528.2 754.1,537.2 754.8,545.5 C755.5,553.8 755.8,559.6 755.9,570.0 C756.0,580.4 755.9,595.9 755.5,608.0 C755.1,620.1 754.9,630.2 753.8,642.5 C752.7,654.8 751.0,669.4 748.7,681.6 C746.4,693.8 744.5,704.5 740.2,715.6 C736.0,726.7 730.6,738.9 723.2,748.0 C715.8,757.1 707.4,764.5 696.0,770.0 C684.6,775.5 667.7,779.5 655.0,781.0 C642.3,782.5 630.5,780.7 620.0,779.0 C609.5,777.3 598.8,773.5 592.0,771.0 C585.2,768.5 581.5,766.5 579.0,764.0 C576.5,761.5 575.9,760.7 577.0,756.0 C578.1,751.3 582.1,746.2 585.5,736.0 C588.9,725.8 594.9,709.2 597.4,695.0 C599.9,680.8 599.9,666.8 600.8,651.0 C601.6,635.2 601.4,618.2 602.5,600.0 C603.6,581.8 605.6,563.7 607.4,542.0 C609.2,520.3 612.0,487.0 613.4,470.0 C614.8,453.0 615.0,454.9 616.0,440.0 C617.0,425.1 617.6,396.3 619.3,380.5 C621.0,364.7 624.7,353.6 626.2,345.0 C627.8,336.4 627.3,335.3 628.6,328.6 C629.9,321.9 632.0,311.5 633.9,304.8 C635.8,298.1 637.2,292.5 639.9,288.7 C642.6,284.9 646.3,282.6 650.0,282.1 Z" fill="#c4443b"/>
<path d="M642.3,287.5 C643.6,290.8 645.8,301.4 647.6,308.3 C649.4,315.2 651.4,323.1 653.0,328.6 C654.6,334.1 654.9,335.7 657.0,341.3 C659.1,346.9 662.7,355.9 665.5,362.5 C668.3,369.1 671.2,375.2 674.0,381.2 C676.8,387.1 679.8,391.7 682.5,398.2 C685.2,404.7 687.8,412.1 690.4,420.0 C693.0,427.9 695.5,437.0 698.0,445.5 C700.5,454.0 703.4,462.5 705.7,471.0 C708.0,479.5 709.8,488.3 711.7,496.5 C713.7,504.7 715.7,511.8 717.4,520.0 C719.1,528.2 720.7,537.0 721.7,545.5 C722.7,554.0 723.0,561.9 723.4,571.0 C723.8,580.1 724.3,582.5 723.8,600.0 C723.3,617.5 722.3,656.2 720.5,676.0 C718.7,695.8 716.5,706.7 713.0,719.0 C709.5,731.3 705.1,741.7 699.4,749.6 C693.7,757.5 686.4,762.4 679.0,766.6 C671.6,770.8 664.8,773.4 655.0,775.0 C645.2,776.6 630.5,776.8 620.0,776.0 C609.5,775.2 598.8,772.3 592.0,770.0 C585.2,767.7 581.8,764.5 579.5,762.0 C577.2,759.5 577.0,759.3 578.0,755.0 C579.0,750.7 582.3,746.0 585.5,736.0 C588.7,726.0 594.9,709.0 597.4,695.0 C599.9,681.0 597.7,658.2 600.8,652.0 C603.9,645.8 610.9,655.4 616.0,657.8 C621.1,660.2 628.0,664.0 631.4,666.3 C634.8,668.6 635.6,670.5 636.5,671.4 C637.4,669.4 638.5,662.1 641.6,659.5 C644.7,656.9 651.8,660.2 655.2,656.0 C658.6,651.8 661.2,640.8 662.0,634.0 C662.8,627.2 661.2,623.2 660.0,615.0 C658.8,606.8 656.2,599.1 654.6,584.7 C653.0,570.3 651.3,542.6 650.4,528.5 C649.5,514.4 649.7,509.4 649.0,500.0 C648.3,490.6 647.4,481.3 646.0,472.0 C644.6,462.7 642.9,453.3 640.6,444.0 C638.3,434.7 634.4,426.2 632.0,416.0 C629.6,405.8 628.3,388.6 626.5,382.5 C624.7,376.4 621.9,380.2 621.0,379.7 C621.9,373.9 624.9,353.5 626.2,345.0 C627.5,336.5 627.3,335.3 628.6,328.6 C629.9,321.9 632.0,311.5 633.9,304.8 C635.8,298.1 638.5,291.6 639.9,288.7 C641.3,285.8 641.0,284.2 642.3,287.5 Z" fill="#e08276"/>
<path d="M653.0,328.6 C653.0,326.2 655.2,327.0 657.0,327.0 C658.8,327.0 660.2,326.1 663.8,328.5 C667.3,330.9 673.8,335.6 678.3,341.3 C682.8,347.0 687.5,354.7 691.0,362.5 C694.5,370.3 696.5,378.4 699.5,388.0 C702.5,397.6 706.2,410.5 709.0,420.0 C711.8,429.5 714.0,435.1 716.0,445.0 C718.0,454.9 719.0,467.0 721.0,479.5 C723.0,492.0 726.8,508.2 728.0,520.0 C729.2,531.8 729.1,539.2 728.5,550.0 C727.9,560.8 725.4,581.5 724.5,585.0 C723.6,588.5 723.9,577.6 723.4,571.0 C722.9,564.4 722.7,554.0 721.7,545.5 C720.7,537.0 719.1,528.2 717.4,520.0 C715.7,511.8 713.7,504.7 711.7,496.5 C709.8,488.3 708.0,479.5 705.7,471.0 C703.4,462.5 700.5,454.0 698.0,445.5 C695.5,437.0 693.0,427.9 690.4,420.0 C687.8,412.1 685.2,404.7 682.5,398.2 C679.8,391.7 676.8,387.1 674.0,381.2 C671.2,375.2 668.3,369.1 665.5,362.5 C662.7,355.9 659.1,346.9 657.0,341.3 C654.9,335.7 653.0,331.0 653.0,328.6 Z" fill="#d05a50"/>
<path d="M642.3,287.5 C643.2,291.0 645.8,301.4 647.6,308.3 C649.4,315.2 651.4,323.1 653.0,328.6 C654.6,334.1 654.9,335.7 657.0,341.3 C659.1,346.9 662.7,355.9 665.5,362.5 C668.3,369.1 671.2,375.2 674.0,381.2 C676.8,387.1 679.8,391.7 682.5,398.2 C685.2,404.7 687.8,412.1 690.4,420.0 C693.0,427.9 695.5,437.0 698.0,445.5 C700.5,454.0 703.4,462.5 705.7,471.0 C708.0,479.5 709.8,488.3 711.7,496.5 C713.7,504.7 715.7,511.8 717.4,520.0 C719.1,528.2 720.7,537.0 721.7,545.5 C722.7,554.0 723.0,561.9 723.4,571.0 C723.8,580.1 724.3,582.5 723.8,600.0 C723.3,617.5 722.3,656.2 720.5,676.0 C718.7,695.8 716.5,706.7 713.0,719.0 C709.5,731.3 705.1,741.7 699.4,749.6 C693.7,757.5 686.4,762.4 679.0,766.6 C671.6,770.8 659.0,773.6 655.0,775.0" fill="none" stroke="#a3352f" stroke-width="1.8"/>
<path d="M703.5,471.0 C704.5,475.2 707.5,488.3 709.5,496.5 C711.5,504.7 713.5,511.8 715.2,520.0 C716.9,528.2 718.5,537.0 719.5,545.5 C720.5,554.0 720.8,561.9 721.2,571.0 C721.5,580.1 722.1,582.5 721.6,600.0 C721.1,617.5 720.1,656.2 718.3,676.0 C716.5,695.8 714.3,706.7 710.8,719.0 C707.3,731.3 702.9,741.7 697.2,749.6 C691.5,757.5 680.2,763.8 676.8,766.6" fill="none" stroke="#f0998c" stroke-width="1.6" opacity="0.8"/>
<path d="M621.0,379.7 C621.9,380.2 624.7,376.4 626.5,382.5 C628.3,388.6 629.6,405.8 632.0,416.0 C634.4,426.2 638.3,434.7 640.6,444.0 C642.9,453.3 644.6,462.7 646.0,472.0 C647.4,481.3 648.3,490.6 649.0,500.0 C649.7,509.4 649.5,514.4 650.4,528.5 C651.3,542.6 653.0,570.3 654.6,584.7 C656.2,599.1 658.8,606.8 660.0,615.0 C661.2,623.2 662.8,627.2 662.0,634.0 C661.2,640.8 658.6,651.8 655.2,656.0 C651.8,660.2 644.7,656.9 641.6,659.5 C638.5,662.1 637.4,669.4 636.5,671.4 C635.6,670.5 634.8,668.6 631.4,666.3 C628.0,664.0 621.1,660.1 616.0,657.8 C610.9,655.5 603.3,653.6 600.8,652.7 C601.1,643.9 601.4,618.5 602.5,600.0 C603.6,581.5 605.6,563.7 607.4,542.0 C609.2,520.3 612.0,487.0 613.4,470.0 C614.8,453.0 614.7,455.1 616.0,440.0 C617.3,424.9 620.2,389.8 621.0,379.7 Z" fill="#a83131"/>
<path d="M609.0,500.0 C611.7,495.0 617.8,507.5 622.0,515.0 C626.2,522.5 630.8,533.3 634.0,545.0 C637.2,556.7 638.8,572.5 641.0,585.0 C643.2,597.5 646.3,609.5 647.0,620.0 C647.7,630.5 647.3,641.3 645.0,648.0 C642.7,654.7 637.8,658.8 633.0,660.0 C628.2,661.2 621.2,656.7 616.0,655.0 C610.8,653.3 603.7,659.2 601.5,650.0 C599.3,640.8 602.2,617.5 603.0,600.0 C603.8,582.5 605.0,561.7 606.0,545.0 C607.0,528.3 606.3,505.0 609.0,500.0 Z" fill="#bc4644"/>
<path d="M636.7,583.0 C639.4,584.3 646.0,593.0 650.0,600.0 C654.0,607.0 660.0,619.0 661.0,625.0 C662.0,631.0 658.7,638.2 656.0,636.0 C653.3,633.8 648.7,619.3 645.0,612.0 C641.3,604.7 635.4,596.8 634.0,592.0 C632.6,587.2 634.0,581.7 636.7,583.0 Z" fill="#a52e30"/>
<path d="M624.5,614.4 C626.3,615.2 629.8,628.2 632.0,635.0 C634.2,641.8 637.4,649.2 638.0,655.0 C638.6,660.8 637.2,670.0 635.4,670.0 C633.6,670.0 629.4,661.7 627.0,655.0 C624.6,648.3 621.4,636.8 621.0,630.0 C620.6,623.2 622.7,613.6 624.5,614.4 Z" fill="#a52e30"/>
<path d="M602.7,628.0 C604.4,626.5 609.5,633.3 612.0,636.0 C614.5,638.7 618.4,642.1 617.7,644.4 C617.0,646.7 610.6,649.9 608.0,650.0 C605.4,650.1 602.7,648.7 601.8,645.0 C600.9,641.3 601.0,629.5 602.7,628.0 Z" fill="#a83232"/>
<path d="M622.0,381.0 C622.8,376.4 624.8,376.7 626.5,382.5 C628.2,388.3 629.6,405.8 632.0,416.0 C634.4,426.2 638.3,434.7 640.6,444.0 C642.9,453.3 644.6,462.7 646.0,472.0 C647.4,481.3 648.3,490.6 649.0,500.0 C649.7,509.4 649.5,514.4 650.4,528.5 C651.3,542.6 653.0,570.3 654.6,584.7 C656.2,599.1 658.8,606.8 660.0,615.0 C661.2,623.2 662.8,629.8 662.0,634.0 C661.2,638.2 657.0,645.7 655.0,640.0 C653.0,634.3 652.0,613.3 650.0,600.0 C648.0,586.7 644.7,573.3 643.0,560.0 C641.3,546.7 641.5,533.3 640.0,520.0 C638.5,506.7 636.2,493.3 634.0,480.0 C631.8,466.7 629.0,451.7 627.0,440.0 C625.0,428.3 622.8,419.8 622.0,410.0 C621.2,400.2 621.2,385.6 622.0,381.0 Z" fill="#9b2729"/>
<path d="M615.0,506.0 C616.0,507.7 618.7,511.3 621.0,516.0 C623.3,520.7 627.7,531.0 629.0,534.0" fill="none" stroke="#e0827a" stroke-width="1.6" opacity="0.8"/>
<path d="M642.3,287.5 C643.6,286.6 646.7,282.4 650.0,282.1 C653.3,281.9 658.4,283.6 662.0,286.0 C665.6,288.4 669.8,294.7 671.4,296.4 C670.5,297.7 668.2,301.9 666.0,304.0 C663.8,306.1 661.4,308.3 658.3,309.0 C655.2,309.7 649.4,308.4 647.6,308.3 C647.1,306.6 645.4,301.5 644.5,298.0 C643.6,294.5 642.7,289.2 642.3,287.5 Z" fill="#b4395c" stroke="#8a2a40" stroke-width="1.3"/>
<path d="M650.0,282.1 C653.7,281.7 658.4,283.6 662.0,286.0 C665.6,288.4 668.1,292.3 671.4,296.4 C674.6,300.5 678.8,306.8 681.5,310.7 C684.2,314.6 684.3,314.5 687.6,320.0 C690.9,325.5 697.5,336.7 701.2,343.8 C704.9,350.9 706.9,355.8 709.7,362.5 C712.5,369.2 714.9,374.2 718.2,383.8 C721.5,393.4 726.3,409.7 729.5,420.0 C732.7,430.3 734.9,437.0 737.2,445.5 C739.5,454.0 741.3,462.5 743.1,471.0 C744.9,479.5 746.8,488.3 748.2,496.5 C749.6,504.7 750.4,511.8 751.5,520.0 C752.6,528.2 754.1,537.2 754.8,545.5 C755.5,553.8 755.8,559.6 755.9,570.0 C756.0,580.4 755.9,595.9 755.5,608.0 C755.1,620.1 754.9,630.2 753.8,642.5 C752.7,654.8 751.0,669.4 748.7,681.6 C746.4,693.8 744.5,704.5 740.2,715.6 C736.0,726.7 730.6,738.9 723.2,748.0 C715.8,757.1 707.4,764.5 696.0,770.0 C684.6,775.5 667.7,779.5 655.0,781.0 C642.3,782.5 630.5,780.7 620.0,779.0 C609.5,777.3 598.8,773.5 592.0,771.0 C585.2,768.5 581.5,766.5 579.0,764.0 C576.5,761.5 575.9,760.7 577.0,756.0 C578.1,751.3 582.1,746.2 585.5,736.0 C588.9,725.8 594.9,709.2 597.4,695.0 C599.9,680.8 599.9,666.8 600.8,651.0 C601.6,635.2 601.4,618.2 602.5,600.0 C603.6,581.8 605.6,563.7 607.4,542.0 C609.2,520.3 612.0,487.0 613.4,470.0 C614.8,453.0 615.0,454.9 616.0,440.0 C617.0,425.1 617.6,396.3 619.3,380.5 C621.0,364.7 624.7,353.6 626.2,345.0 C627.8,336.4 627.3,335.3 628.6,328.6 C629.9,321.9 632.0,311.5 633.9,304.8 C635.8,298.1 637.2,292.5 639.9,288.7 C642.6,284.9 646.3,282.6 650.0,282.1 Z" fill="none" stroke="#8e2620" stroke-width="1.5"/>
<path d="M690.0,479.0 C688.3,479.3 681.7,480.7 680.0,481.0" fill="none" stroke="#c9625a" stroke-width="1.4" opacity="0.8"/>
<path d="M660.0,528.0 C658.7,527.8 653.3,527.2 652.0,527.0" fill="none" stroke="#c9625a" stroke-width="1.4" opacity="0.8"/>
<path d="M700.0,546.0 C698.3,546.3 691.7,547.7 690.0,548.0" fill="none" stroke="#c9625a" stroke-width="1.4" opacity="0.8"/>
<path d="M687.0,590.0 C685.2,591.7 679.6,595.9 676.0,600.0 C672.4,604.1 667.1,612.0 665.3,614.4" fill="none" stroke="#c9625a" stroke-width="1.4" opacity="0.8"/>
<path d="M657.0,655.0 C659.2,657.2 665.4,663.9 670.0,668.0 C674.6,672.1 682.0,677.8 684.4,679.7" fill="none" stroke="#c9625a" stroke-width="1.4" opacity="0.8"/>
<path d="M640.8,675.6 C641.5,679.7 643.9,693.2 645.0,700.0 C646.1,706.8 647.2,713.8 647.6,716.5" fill="none" stroke="#c9625a" stroke-width="1.4" opacity="0.8"/>
<path d="M664.0,370.0 C660.0,375.0 644.0,395.0 640.0,400.0" fill="none" stroke="#c9625a" stroke-width="1.4" opacity="0.8"/>
<path d="M640.0,420.0 C641.3,428.3 646.7,461.7 648.0,470.0" fill="none" stroke="#c9625a" stroke-width="1.4" opacity="0.8"/>
<path d="M712.9,617.0 C714.0,618.8 718.6,626.2 719.7,628.0" fill="none" stroke="#c9625a" stroke-width="1.4" opacity="0.8"/>
</g>
<defs>
<radialGradient id="vl" cx="0.5" cy="0.5" r="0.5">
<stop offset="0" stop-color="#7b1d22"/><stop offset="0.56" stop-color="#7b1d22"/><stop offset="0.62" stop-color="#c9474b"/>
<stop offset="0.78" stop-color="#d9585b"/><stop offset="0.9" stop-color="#e06a6a"/><stop offset="0.97" stop-color="#e57d7b" stop-opacity="0.7"/><stop offset="1" stop-color="#ffffff" stop-opacity="0"/>
</radialGradient>
<radialGradient id="vr" cx="0.5" cy="0.5" r="0.5">
<stop offset="0" stop-color="#7b1d22"/><stop offset="0.64" stop-color="#7b1d22"/><stop offset="0.7" stop-color="#c04348"/>
<stop offset="0.82" stop-color="#d4585b"/><stop offset="0.92" stop-color="#dc6f6c" stop-opacity="0.8"/><stop offset="1" stop-color="#e08276" stop-opacity="0"/>
</radialGradient>
</defs>
<circle cx="770.3" cy="586" r="29.5" fill="url(#vl)"/>
<circle cx="1201.4" cy="586.2" r="27" fill="url(#vr)"/>
<rect x="471" y="14" width="991" height="1148" fill="none" stroke="#000" stroke-width="4.5" stroke-linejoin="round"/>
<line x1="352.3" y1="575" x2="469.2" y2="14" stroke="#000" stroke-width="4.5" stroke-dasharray="9 11.4" stroke-dashoffset="1.9"/>
<line x1="351.1" y1="632" x2="470.6" y2="1162" stroke="#000" stroke-width="4.5" stroke-dasharray="9 11.4" stroke-dashoffset="20.3"/>
<rect x="321.5" y="575.5" width="30.5" height="55" fill="none" stroke="#1a1a1a" stroke-width="4.5"/>
<text x="754" y="420.4" font-size="34.5" stroke="#000" stroke-width="0.6" textLength="336" lengthAdjust="spacingAndGlyphs">Laag op het myocard</text>
<text x="1294" y="453.5" font-size="34.5" stroke="#000" stroke-width="0.6" textLength="136" lengthAdjust="spacingAndGlyphs">Myocard</text>
<text x="906.7" y="671.2" font-size="34.5" stroke="#000" stroke-width="0.6" textLength="137" lengthAdjust="spacingAndGlyphs">Coronair</text>
<text x="522" y="911.8" font-size="74" textLength="270" lengthAdjust="spacingAndGlyphs">Normaal</text>
<text x="939" y="911.5" font-size="74" textLength="441" lengthAdjust="spacingAndGlyphs">Myocard-brug</text>
<g stroke="#000" stroke-width="4.5" fill="none">
<line x1="882" y1="433" x2="725" y2="433"/>
<line x1="1364" y1="465" x2="1205" y2="465"/>
<polyline points="801,626 845,682.5 1125,682.5 1171,630"/>
</g>
<g fill="#000">
<path d="M707,433 L735,421 L729,433 L736,445 Z"/>
<path d="M1186.5,465 L1215,453.5 L1209,465 L1215,477.3 Z"/>
<path d="M788.3,607 L815.9,622.3 L801.5,627.4 L796.4,636.8 Z"/>
<path d="M1186.5,613.6 L1176.3,642.5 L1169.5,633.2 L1158.5,626.4 Z"/>
</g>
</svg>
</body></html>
